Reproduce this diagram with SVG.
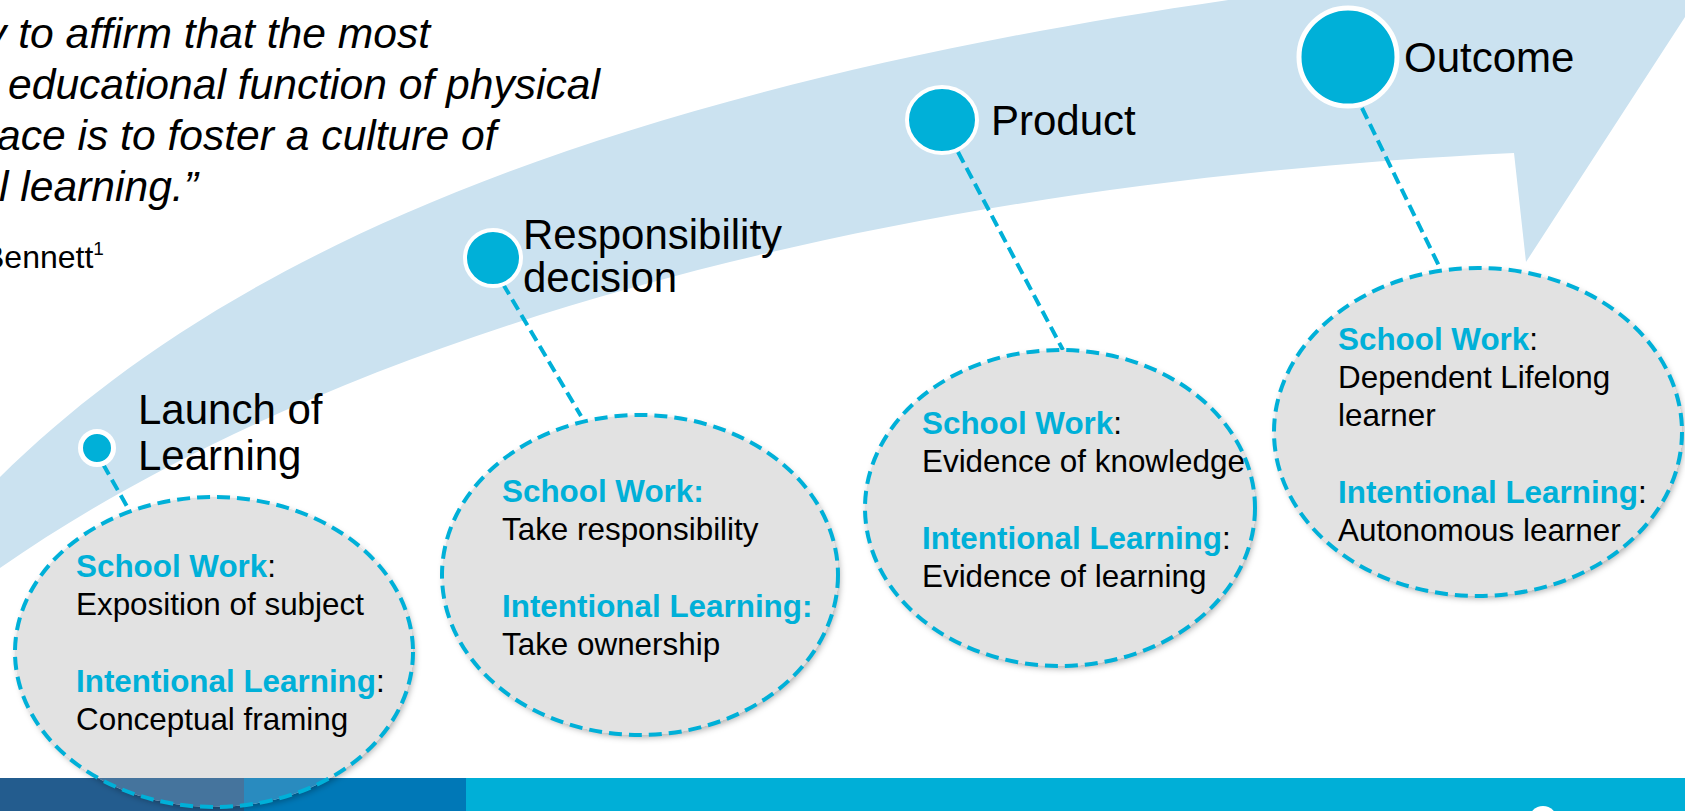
<svg xmlns="http://www.w3.org/2000/svg" width="1685" height="811" viewBox="0 0 1685 811">
  <defs>
    <style>
      .quote { font-family: "Liberation Sans", Arial, sans-serif; font-style: italic; font-size: 42.6px; fill: #000; }
      .label { font-family: "Liberation Sans", Arial, sans-serif; font-size: 42px; fill: #000; }
      .body { font-family: "Liberation Sans", Arial, sans-serif; font-size: 31.4px; fill: #000; }
      .head { font-weight: bold; fill: #00b0d8; }
      .dot { fill: #00b0d8; stroke: #ffffff; }
      .bubble { fill: #e2e2e2; }
      .bubble-line { fill: none; stroke: #00b0d8; stroke-width: 4; stroke-dasharray: 13 7; }
      .link { fill: none; stroke: #00b0d8; stroke-width: 4; stroke-dasharray: 12 6; }
    </style>
    <filter id="shadow" x="-10%" y="-10%" width="125%" height="125%">
      <feDropShadow dx="2" dy="3" stdDeviation="3" flood-color="#000" flood-opacity="0.3"/>
    </filter>
    <clipPath id="clipLaunch">
      <ellipse cx="214" cy="652" rx="199" ry="155"/>
    </clipPath>
  </defs>

  <rect width="1685" height="811" fill="#ffffff"/>

  <!-- big curved arrow -->
  <path id="arrow" d="M 0,477 C 200,280 550,90 1300,-10 L 1774,-120 L 1526,262 L 1514,153 C 850,185 320,345 0,568 Z" fill="#cbe2f0"/>

  <!-- quote -->
  <g id="quote">
    <text class="quote" x="-15" y="48">y to affirm that the most</text>
    <text class="quote" x="8" y="99">educational function of physical</text>
    <text class="quote" x="-3" y="150">ace is to foster a culture of</text>
    <text class="quote" x="-1" y="201">l learning.”</text>
    <text font-family="Liberation Sans, Arial, sans-serif" font-size="32" x="-17" y="268">Bennett<tspan font-size="19" dy="-13">1</tspan></text>
  </g>

  <!-- bottom band -->
  <g id="band">
    <rect x="0" y="778" width="244" height="33" fill="#235c8e"/>
    <rect x="244" y="778" width="222" height="33" fill="#0078b7"/>
    <rect x="466" y="778" width="1219" height="33" fill="#00afd7"/>
    <circle cx="1543" cy="820" r="14" fill="#ffffff"/>
  </g>

  <!-- connectors -->
  <g id="connectors">
    <line class="link" x1="103" y1="464" x2="129" y2="510"/>
    <line class="link" x1="503" y1="284" x2="581" y2="416"/>
    <line class="link" x1="958" y1="152" x2="1063" y2="350"/>
    <line class="link" x1="1362" y1="108" x2="1440" y2="268"/>
  </g>

  <!-- node: Launch of Learning -->
  <g id="node-launch">
    <circle class="dot" cx="97" cy="448" r="16.5" stroke-width="5"/>
    <text class="label" x="138" y="424">Launch of</text>
    <text class="label" x="138" y="470">Learning</text>
    <ellipse class="bubble" cx="214" cy="652" rx="199" ry="155" filter="url(#shadow)"/>
    <g clip-path="url(#clipLaunch)" opacity="0.82">
      <rect x="0" y="778" width="244" height="33" fill="#235c8e"/>
      <rect x="244" y="778" width="222" height="33" fill="#0078b7"/>
    </g>
    <ellipse class="bubble-line" cx="214" cy="652" rx="199" ry="155"/>
    <text class="body" x="76" y="577"><tspan class="head">School Work</tspan>:</text>
    <text class="body" x="76" y="615">Exposition of subject</text>
    <text class="body" x="76" y="692"><tspan class="head">Intentional Learning</tspan>:</text>
    <text class="body" x="76" y="730">Conceptual framing</text>
  </g>

  <!-- node: Responsibility decision -->
  <g id="node-responsibility">
    <circle class="dot" cx="493" cy="258" r="28" stroke-width="4"/>
    <text class="label" x="523" y="249">Responsibility</text>
    <text class="label" x="523" y="292">decision</text>
    <ellipse class="bubble" cx="640" cy="575" rx="198" ry="160" filter="url(#shadow)"/>
    <ellipse class="bubble-line" cx="640" cy="575" rx="198" ry="160"/>
    <text class="body" x="502" y="502"><tspan class="head">School Work:</tspan></text>
    <text class="body" x="502" y="540">Take responsibility</text>
    <text class="body" x="502" y="617"><tspan class="head">Intentional Learning:</tspan></text>
    <text class="body" x="502" y="655">Take ownership</text>
  </g>

  <!-- node: Product -->
  <g id="node-product">
    <ellipse class="dot" cx="942" cy="120" rx="35" ry="33" stroke-width="4"/>
    <text class="label" x="991" y="135">Product</text>
    <ellipse class="bubble" cx="1060" cy="508" rx="195" ry="158" filter="url(#shadow)"/>
    <ellipse class="bubble-line" cx="1060" cy="508" rx="195" ry="158"/>
    <text class="body" x="922" y="434"><tspan class="head">School Work</tspan>:</text>
    <text class="body" x="922" y="472">Evidence of knowledge</text>
    <text class="body" x="922" y="549"><tspan class="head">Intentional Learning</tspan>:</text>
    <text class="body" x="922" y="587">Evidence of learning</text>
  </g>

  <!-- node: Outcome -->
  <g id="node-outcome">
    <circle class="dot" cx="1348" cy="57" r="49" stroke-width="5"/>
    <text class="label" x="1404" y="72">Outcome</text>
    <ellipse class="bubble" cx="1478" cy="432" rx="204" ry="164" filter="url(#shadow)"/>
    <ellipse class="bubble-line" cx="1478" cy="432" rx="204" ry="164"/>
    <text class="body" x="1338" y="350"><tspan class="head">School Work</tspan>:</text>
    <text class="body" x="1338" y="388">Dependent Lifelong</text>
    <text class="body" x="1338" y="426">learner</text>
    <text class="body" x="1338" y="503"><tspan class="head">Intentional Learning</tspan>:</text>
    <text class="body" x="1338" y="541">Autonomous learner</text>
  </g>
</svg>
